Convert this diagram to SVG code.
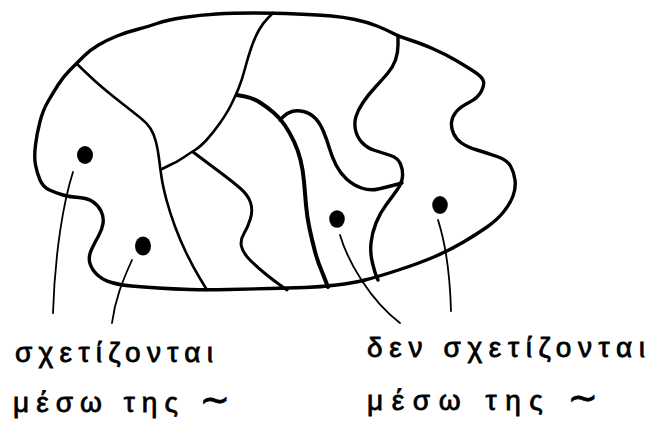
<svg xmlns="http://www.w3.org/2000/svg" width="651" height="432" viewBox="0 0 651 432">
<style>
.ln{fill:none;stroke:#000;stroke-linecap:round;stroke-linejoin:round}
.lead{fill:none;stroke:#000;stroke-width:1.8;stroke-linecap:round}
.dot{fill:#000}
.lbl{font-family:"Liberation Sans","DejaVu Sans",sans-serif;font-size:28px;fill:#000;stroke:#000;stroke-width:0.8}
.tl{font-size:36px}
</style>
<rect width="651" height="432" fill="#fff"/>
<g id="outline">
<path class="ln" stroke-width="3.4" d="M253,13 Q273,13 296.5,14 Q320,15 331.5,16 Q343,17 355,19.5 Q367,22 377,26 Q387,30 393.5,33.5 Q400,37 410,40 Q420,43 433.5,49 Q447,55 457,61 Q467,67 474,71.5 Q481,76 483,80 Q485,84 481.5,91 Q478,98 469,102.5 Q460,107 456,112 Q452,117 451.5,122.5 Q451,128 453.5,133.5 Q456,139 461.5,143 Q467,147 477,150 Q487,153 497,156.5 Q507,160 510.5,166 Q514,172 515,180 Q516,188 513,196 Q510,204 503.5,212 Q497,220 487,227 Q477,234 463.5,242 Q450,250 435,256.5 Q420,263 398.5,270 Q377,277 365,280 Q353,283 336.5,285 Q320,287 305,287.5 Q290,288 270,288.5 Q250,289 228.5,289.5 Q207,290 190,289.5 Q173,289 158,288 Q143,287 131.5,286 Q120,285 111.5,282.5 Q103,280 97.5,275 Q92,270 90,263.5 Q88,257 91.5,249.5 Q95,242 98.5,236 Q102,230 103,223.5 Q104,217 101,211 Q98,205 92.5,201.5 Q87,198 78.5,197.5 Q70,197 63,195 Q56,193 49.5,190 Q43,187 40,180 Q37,173 35.5,165 Q34,157 35.5,145 Q37,133 40,121.5 Q43,110 48,101.5 Q53,93 58,85 Q63,77 70,70 Q77,63 83.5,56.5 Q90,50 98.5,45 Q107,40 117,36 Q127,32 137,29.5 Q147,27 157,23.5 Q167,20 183.5,17.5 Q200,15 216.5,14 Q233,13 253,13 Z"/>
</g>
<g id="partitions">
<path class="ln" stroke-width="2.6" d="M77,64 L88.5,75 Q100,86 116.5,99 Q133,112 140,117.5 Q147,123 150.5,128.5 Q154,134 156,142 Q158,150 159,158.5 Q160,167 161.5,177 Q163,187 166.5,200 Q170,213 175,226.5 Q180,240 186.5,253.5 Q193,267 200,278.5 L207,290"/>
<path class="ln" stroke-width="2.6" d="M273,13 L268,18 Q263,23 259,30 Q255,37 251.5,47 Q248,57 245,68.5 Q242,80 238.5,88.5 Q235,97 231,105 Q227,113 220,123 Q213,133 206.5,140 Q200,147 195,150 Q190,153 183.5,157.5 Q177,162 170,165 L162,169"/>
<path class="ln" stroke-width="3" d="M193,152 L203,159.5 Q213,167 223,174.5 Q233,182 240.5,188.5 Q248,195 250.5,202.5 Q253,210 250.5,218.5 Q248,227 244,233.5 Q240,240 241.5,246.5 Q243,253 250,260 Q257,267 265,273.5 Q273,280 280,285 L287,290"/>
<path class="ln" stroke-width="4" d="M237,95 L245,96.5 Q253,98 260,102.5 Q267,107 273.5,112.5 Q280,118 285,125.5 Q290,133 294,141.5 Q298,150 300.5,160 Q303,170 304,181.5 Q305,193 306,205 Q307,217 309.5,228.5 Q312,240 315,251.5 Q318,263 322.5,273 L328,287"/>
<path class="ln" stroke-width="3.4" d="M280,120 L283.5,116.5 Q287,113 292,111.5 Q297,110 303.5,111.5 Q310,113 315,118 Q320,123 323.5,131.5 Q327,140 329.5,148.5 Q332,157 336,165 Q340,173 346.5,179 Q353,185 361.5,188 Q370,191 378.5,189 Q387,187 394.5,185 L402,183"/>
<path class="ln" stroke-width="3.4" d="M398,37 L398,45 Q398,53 395.5,60 Q393,67 387.5,73.5 Q382,80 375,87.5 Q368,95 363,102.5 Q358,110 356,116.5 Q354,123 355.5,130 Q357,137 362,142.5 Q367,148 375,150.5 Q383,153 390.5,155.5 Q398,158 400.5,164 Q403,170 402.5,176.5 Q402,183 397,190 Q392,197 386,205 Q380,213 376,223 Q372,233 371,243 Q370,253 372.5,263 Q375,273 376.5,276.5 L378,280"/>
</g>
<g id="dots">
<ellipse class="dot" cx="85" cy="155" rx="8" ry="9"/>
<ellipse class="dot" cx="143" cy="246" rx="8" ry="9.5"/>
<ellipse class="dot" cx="337" cy="219" rx="7.8" ry="8.7"/>
<ellipse class="dot" cx="440" cy="205" rx="7.8" ry="9"/>
</g>
<g id="connectors">
<path class="lead" d="M73,172 C64,200 55,250 53,313"/>
<path class="lead" d="M132,260 C122,282 115,300 112,323"/>
<path class="lead" d="M340,235 C348,262 370,300 400,323"/>
<path class="lead" d="M438,220 C446,245 450,275 451,311"/>
</g>
<g id="label-left">
<text class="lbl" x="15" y="362" textLength="198" lengthAdjust="spacing">σχετίζονται</text>
<text class="lbl" x="13" y="412" textLength="217" lengthAdjust="spacing">μέσω της <tspan class="tl">∼</tspan></text>
</g>
<g id="label-right">
<text class="lbl" x="367" y="357" textLength="278" lengthAdjust="spacing">δεν σχετίζονται</text>
<text class="lbl" x="367" y="410" textLength="231" lengthAdjust="spacing">μέσω της <tspan class="tl">∼</tspan></text>
</g>
</svg>
